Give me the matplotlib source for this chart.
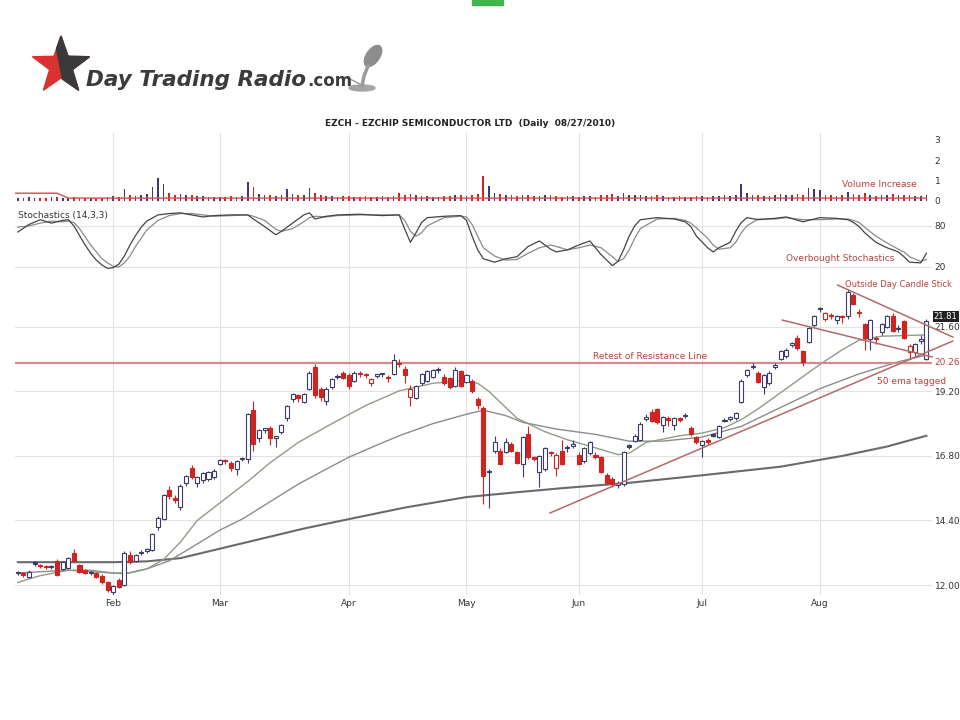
import numpy as np
import matplotlib
matplotlib.use("Agg")
import matplotlib.pyplot as plt
from matplotlib.patches import Polygon, Ellipse, Rectangle

# ---- values (EZCH daily, Jan 5 .. Aug 27 2010) ----
months = ['Feb', 'Mar', 'Apr', 'May', 'Jun', 'Jul', 'Aug']
month_start = [18, 37, 60, 81, 101, 123, 144]   # index of first session

opens = [12.30, 12.47, 12.45, 12.30, 12.82, 12.72, 12.72, 12.66, 12.90, 12.60,
         12.65, 13.20, 12.75, 12.55, 12.44, 12.45, 12.35, 12.10, 11.75, 12.20,
         12.00, 13.10, 12.90, 13.18, 13.28, 13.30, 14.15, 14.45, 15.55, 15.25,
         14.90, 15.80, 16.35, 15.80, 15.90, 15.95, 16.00, 16.50, 16.62, 16.55,
         16.30, 16.68, 16.70, 18.50, 17.45, 17.78, 17.85, 17.48, 17.70, 18.20,
         18.90, 19.05, 18.80, 19.30, 20.10, 19.30, 18.85, 19.35, 19.72, 19.90,
         19.80, 19.60, 19.88, 19.82, 19.50, 19.78, 19.83, 19.74, 19.85, 20.22,
         20.05, 19.00, 18.95, 19.50, 19.60, 19.75, 19.98, 19.75, 19.70, 19.40,
         19.95, 19.55, 19.60, 18.90, 18.60, 16.25, 17.00, 17.00, 16.95, 17.25,
         16.95, 16.50, 17.60, 16.72, 16.20, 16.30, 16.92, 16.35, 17.00, 17.08,
         17.18, 16.85, 16.60, 16.90, 16.85, 16.75, 16.10, 15.95, 15.73, 15.75,
         17.18, 17.35, 17.40, 18.18, 18.45, 18.55, 17.95, 18.17, 17.95, 18.17,
         18.28, 17.85, 17.50, 17.20, 17.40, 17.58, 17.50, 18.12, 18.18, 18.20,
         18.80, 19.80, 20.12, 19.90, 19.35, 19.50, 20.12, 20.40, 20.50, 20.93,
         21.20, 20.70, 21.05, 21.65, 22.28, 21.90, 22.02, 21.85, 21.97, 22.00,
         22.80, 22.15, 21.70, 21.15, 21.17, 21.40, 21.60, 22.00, 21.52, 21.80,
         20.65, 20.65, 21.08, 20.40]
highs = [12.45, 12.52, 12.50, 12.55, 12.88, 12.78, 12.76, 12.74, 12.98, 12.88,
         13.05, 13.35, 12.80, 12.60, 12.52, 12.48, 12.40, 12.15, 12.00, 12.25,
         13.25, 13.25, 13.15, 13.30, 13.38, 13.95, 14.55, 15.40, 15.70, 15.35,
         15.75, 16.10, 16.45, 16.05, 16.20, 16.25, 16.30, 16.70, 16.70, 16.60,
         16.65, 16.75, 18.40, 18.85, 17.80, 17.85, 17.90, 17.55, 18.00, 18.70,
         19.15, 19.10, 19.15, 19.95, 20.20, 19.35, 19.35, 19.70, 19.85, 19.95,
         19.90, 19.95, 19.95, 19.90, 19.70, 19.85, 19.90, 19.80, 20.60, 20.40,
         20.15, 19.45, 19.45, 19.90, 20.00, 20.05, 20.10, 19.85, 19.75, 20.10,
         20.00, 19.85, 19.65, 19.00, 18.65, 16.30, 17.55, 17.10, 17.45, 17.30,
         17.00, 17.55, 17.90, 16.80, 16.85, 17.15, 17.00, 16.90, 17.40, 17.20,
         17.40, 16.95, 17.15, 17.35, 16.95, 16.80, 16.15, 16.00, 15.85, 17.00,
         17.25, 17.60, 18.05, 18.35, 18.55, 18.60, 18.30, 18.30, 18.25, 18.25,
         18.40, 17.90, 17.55, 17.40, 17.45, 17.65, 17.95, 18.20, 18.30, 18.45,
         19.65, 20.05, 20.25, 19.95, 19.85, 19.95, 20.25, 20.75, 20.80, 21.05,
         21.30, 20.75, 21.60, 22.05, 22.35, 22.15, 22.10, 22.05, 22.05, 23.00,
         22.85, 22.25, 21.75, 21.90, 21.25, 21.75, 22.05, 22.10, 21.65, 21.85,
         20.95, 21.00, 21.30, 21.90]
lows = [12.25, 12.38, 12.30, 12.25, 12.72, 12.62, 12.60, 12.60, 12.32, 12.55,
        12.60, 12.85, 12.45, 12.40, 12.38, 12.25, 12.05, 11.75, 11.60, 11.88,
        11.95, 12.80, 12.85, 13.10, 13.20, 13.25, 14.05, 14.40, 15.20, 15.05,
        14.80, 15.70, 15.95, 15.65, 15.80, 15.85, 15.95, 16.45, 16.50, 16.25,
        16.10, 16.60, 16.55, 17.00, 17.30, 17.65, 17.20, 17.15, 17.60, 18.10,
        18.80, 18.80, 18.75, 19.25, 18.95, 18.85, 18.70, 19.30, 19.65, 19.65,
        19.30, 19.55, 19.75, 19.70, 19.40, 19.70, 19.75, 19.55, 19.80, 20.10,
        19.50, 18.65, 18.90, 19.45, 19.55, 19.70, 19.90, 19.45, 19.30, 19.35,
        19.35, 19.50, 19.15, 18.55, 15.00, 14.85, 16.90, 16.45, 16.90, 16.95,
        16.50, 16.00, 16.70, 16.60, 15.65, 16.25, 16.80, 16.05, 16.45, 16.95,
        17.10, 16.45, 16.55, 16.85, 16.70, 16.15, 15.75, 15.65, 15.60, 15.70,
        17.05, 17.30, 17.35, 18.10, 18.05, 18.00, 17.70, 17.90, 17.75, 18.05,
        18.20, 17.55, 17.25, 16.75, 17.20, 17.50, 17.45, 18.05, 18.10, 18.15,
        18.75, 19.75, 20.05, 19.50, 19.10, 19.45, 20.05, 20.35, 20.45, 20.85,
        20.75, 20.15, 21.00, 21.60, 22.15, 21.80, 21.90, 21.70, 21.75, 21.90,
        22.40, 21.95, 20.75, 20.75, 20.95, 21.30, 21.55, 21.40, 21.40, 21.15,
        20.40, 20.50, 20.95, 20.35]
closes = [12.40, 12.44, 12.37, 12.50, 12.79, 12.70, 12.66, 12.70, 12.37, 12.85,
          13.00, 12.90, 12.50, 12.45, 12.47, 12.30, 12.10, 11.80, 11.95, 11.93,
          13.20, 12.85, 13.10, 13.22, 13.32, 13.90, 14.50, 15.35, 15.30, 15.15,
          15.70, 16.05, 16.00, 16.00, 16.15, 16.20, 16.25, 16.65, 16.60, 16.35,
          16.60, 16.72, 18.35, 17.25, 17.75, 17.80, 17.45, 17.50, 17.95, 18.65,
          19.10, 18.95, 19.10, 19.90, 19.05, 19.00, 19.30, 19.65, 19.75, 19.70,
          19.40, 19.90, 19.85, 19.80, 19.65, 19.80, 19.86, 19.70, 20.35, 20.20,
          19.80, 19.30, 19.40, 19.85, 19.95, 20.00, 20.02, 19.50, 19.35, 20.00,
          19.40, 19.80, 19.20, 18.70, 16.05, 16.20, 17.30, 16.50, 17.30, 17.00,
          16.55, 17.50, 16.75, 16.70, 16.80, 17.10, 16.90, 16.85, 16.50, 17.10,
          17.20, 16.50, 17.10, 17.30, 16.75, 16.20, 15.80, 15.75, 15.76, 16.95,
          17.15, 17.55, 18.00, 18.22, 18.10, 18.05, 18.25, 18.15, 18.20, 18.15,
          18.30, 17.60, 17.30, 17.35, 17.30, 17.55, 17.90, 18.10, 18.22, 18.40,
          19.60, 20.00, 20.10, 19.55, 19.80, 19.90, 20.15, 20.70, 20.75, 20.95,
          20.80, 20.30, 21.55, 22.00, 22.25, 22.10, 22.00, 22.00, 21.95, 22.90,
          22.45, 22.10, 21.20, 21.85, 21.15, 21.70, 22.00, 21.45, 21.55, 21.20,
          20.90, 20.95, 21.10, 21.81]

# volume in millions, one row per month
volume = [0.15, 0.12, 0.14, 0.18, 0.13, 0.12, 0.15, 0.20, 0.17, 0.14, 0.16, 0.18, 0.15, 0.12, 0.13, 0.16, 0.14, 0.18,
          0.22, 0.20, 0.60, 0.30, 0.25, 0.28, 0.32, 0.70, 1.15, 0.85, 0.40, 0.30, 0.35, 0.30, 0.28, 0.25, 0.22, 0.20, 0.18,
          0.20, 0.18, 0.22, 0.20, 0.25, 0.95, 0.70, 0.35, 0.30, 0.28, 0.25, 0.30, 0.60, 0.35, 0.30, 0.28, 0.65, 0.40, 0.30, 0.25, 0.22, 0.20, 0.22,
          0.25, 0.20, 0.18, 0.22, 0.20, 0.18, 0.22, 0.20, 0.25, 0.40, 0.30, 0.35, 0.30, 0.25, 0.22, 0.20, 0.18, 0.22, 0.25, 0.28, 0.30,
          0.25, 0.30, 0.35, 1.25, 0.75, 0.40, 0.35, 0.30, 0.28, 0.25, 0.30, 0.28, 0.22, 0.25, 0.30, 0.28, 0.22, 0.20, 0.25, 0.22,
          0.20, 0.22, 0.25, 0.20, 0.28, 0.30, 0.32, 0.25, 0.38, 0.30, 0.28, 0.30, 0.25, 0.22, 0.28, 0.25, 0.20, 0.18, 0.22, 0.20, 0.18, 0.22,
          0.25, 0.20, 0.22, 0.25, 0.28, 0.25, 0.30, 0.85, 0.40, 0.30, 0.28, 0.25, 0.22, 0.30, 0.35, 0.30, 0.28, 0.32, 0.30, 0.65, 0.60,
          0.55, 0.30, 0.28, 0.25, 0.30, 0.45, 0.35, 0.30, 0.40, 0.30, 0.25, 0.28, 0.30, 0.35, 0.30, 0.28, 0.30, 0.25, 0.22, 0.30]
vol_ma_days = [0, 8, 10, 163]
vol_ma_vals = [0.38, 0.38, 0.14, 0.14]

# moving averages, read at points along each line
ma20_days = [1, 5, 10, 14, 18, 21, 24, 27, 30, 33, 37, 42, 46, 51, 57, 63, 69, 75, 80, 83, 85, 87, 90, 95,
             99, 104, 108, 110, 113, 119, 123, 127, 130, 133, 138, 144, 148, 151, 155, 163]
ma20_vals = [12.10, 12.35, 12.55, 12.55, 12.45, 12.45, 12.60, 12.95, 13.60, 14.40, 15.05, 15.85, 16.55, 17.30,
             18.00, 18.67, 19.22, 19.50, 19.60, 19.50, 19.20, 18.80, 18.20, 17.70, 17.40, 17.10, 16.85, 16.90,
             17.30, 17.55, 17.65, 17.85, 18.15, 18.55, 19.30, 20.20, 20.75, 21.10, 21.25, 21.30]
ma50_days = [1, 10, 20, 24, 28, 32, 37, 41, 46, 51, 55, 60, 65, 69, 75, 81, 84, 88, 91, 97, 104, 110, 116,
             123, 130, 137, 144, 151, 158, 163]
ma50_vals = [12.45, 12.55, 12.42, 12.60, 12.90, 13.40, 14.04, 14.45, 15.10, 15.75, 16.20, 16.75, 17.20, 17.55,
             18.00, 18.35, 18.50, 18.30, 18.05, 17.80, 17.60, 17.35, 17.35, 17.50, 17.90, 18.60, 19.30, 19.85,
             20.30, 20.55]
ma200_days = [1, 18, 24, 30, 37, 45, 52, 60, 70, 81, 90, 98, 110, 123, 137, 148, 156, 163]
ma200_vals = [12.85, 12.85, 12.88, 13.00, 13.35, 13.75, 14.10, 14.45, 14.88, 15.27, 15.45, 15.60, 15.80, 16.08,
              16.40, 16.80, 17.15, 17.55]

# slow stochastics (14,3,3): %K and %D read at the same sessions
sto_days = [1, 3, 5, 7, 9, 10, 11, 12, 13, 14, 15, 16, 17, 18, 19, 20, 21, 22, 23, 24,
            26, 28, 30, 32, 34, 36, 39, 42, 43, 45, 47, 48, 50, 52, 53, 54, 56, 58, 62, 66,
            69, 70, 71, 72, 73, 74, 77, 80, 81, 82, 83, 84, 86, 88, 90, 92, 94, 96, 97, 99,
            101, 103, 105, 107, 108, 109, 110, 111, 112, 115, 118, 120, 121, 122, 124, 125, 126, 128, 129, 130,
            131, 133, 136, 138, 141, 144, 147, 149, 150, 151, 152, 154, 156, 158, 159, 160, 162, 163]
sto_k = [71, 82, 89, 84, 88, 89, 80, 66, 52, 40, 30, 23, 18, 19, 24, 36, 52, 66, 78, 87,
         96, 98, 99, 96, 93, 95, 96, 96, 90, 79, 67, 72, 84, 96, 99, 90, 94, 96, 97, 95,
         96, 75, 56, 70, 85, 92, 94, 95, 88, 65, 45, 32, 27, 32, 35, 50, 58, 46, 42, 45,
         52, 58, 38, 22, 28, 45, 65, 80, 89, 92, 90, 86, 79, 65, 48, 42, 48, 56, 72, 85,
         92, 89, 91, 93, 86, 92, 91, 89, 85, 79, 70, 56, 48, 42, 35, 27, 26, 40]
sto_d = [78, 80, 84, 87, 86, 87, 85, 76, 64, 52, 42, 32, 26, 21, 20, 26, 36, 50, 62, 74,
         88, 95, 98, 98, 96, 94, 95, 96, 94, 88, 75, 72, 76, 86, 92, 94, 93, 95, 96, 96,
         96, 88, 72, 65, 70, 80, 92, 94, 93, 82, 65, 48, 36, 30, 31, 40, 48, 52, 50, 45,
         48, 52, 48, 35, 28, 32, 45, 62, 76, 90, 91, 88, 84, 77, 62, 52, 46, 48, 56, 70,
         80, 90, 90, 92, 89, 89, 90, 90, 88, 85, 78, 65, 55, 46, 42, 35, 28, 31]

price_ticks = [12.00, 14.40, 16.80, 19.20, 21.60]
resistance = 20.26
last_close = closes[-1]

# ---- layout (pixel positions of the 960x720 frame) ----
RED = '#cf2420'
DARK = '#3c3c6c'
NOTE = '#b8413f'
GRID = '#e3e3e3'

fig = plt.figure(figsize=(9.6, 7.2), dpi=100)
fig.patch.set_facecolor('white')

def box(top, bottom, left=15, right=932):
    return [left / 960, 1 - bottom / 720, (right - left) / 960, (bottom - top) / 720]

# background layer for the logo
bg = fig.add_axes([0, 0, 1, 1])
bg.set_xlim(0, 960)
bg.set_ylim(720, 0)
bg.axis('off')
bg.add_patch(Rectangle((472, 0), 31, 5, color='#3fb54b'))

cx, cy = 61, 66
ang = np.deg2rad(-90 + np.arange(10) * 36)
rad = np.where(np.arange(10) % 2 == 0, 30, 12)
star = np.c_[cx + rad * np.cos(ang), cy + rad * np.sin(ang)]
bg.add_patch(Polygon(star, closed=True, color='#d9322f'))
dark_star = Polygon(star, closed=True, color='#3a3a3a')
bg.add_patch(dark_star)
clip = Polygon([(52, 30), (120, 30), (120, 110), (68, 110)], closed=True, transform=bg.transData)
dark_star.set_clip_path(clip)

logo = bg.text(86, 86, 'Day Trading Radio', fontsize=20, fontweight='bold', fontstyle='italic',
               color='#3b3b3b', family=['Liberation Sans Narrow', 'DejaVu Sans'], va='baseline')
fig.canvas.draw()
bb = logo.get_window_extent()
if bb.width > 220:
    logo.set_fontsize(20 * 220 / bb.width)
    fig.canvas.draw()
    bb = logo.get_window_extent()
bg.text(bb.x1 + 1, 86, '.com', fontsize=12, fontweight='bold', color='#3b3b3b',
        family=['Liberation Sans Narrow', 'DejaVu Sans'], va='baseline')
bg.add_patch(Ellipse((373, 56), 13, 24, angle=35, color='#8d8d8d'))
bg.plot([368, 364, 362], [66, 76, 86], color='#9a9a9a', lw=2.5)
bg.add_patch(Ellipse((362, 88), 26, 6, color='#a5a5a5'))
bg.plot([344, 352, 360], [77, 80, 84], color='#9a9a9a', lw=1)

fig.text(470 / 960, 1 - 124 / 720, 'EZCH - EZCHIP SEMICONDUCTOR LTD  (Daily  08/27/2010)',
         ha='center', va='center', fontsize=6.5, fontweight='bold', color='#222222')

ax_vol = fig.add_axes(box(133, 205))
ax_sto = fig.add_axes(box(206, 280))
ax_pr = fig.add_axes(box(280, 595))

days = np.arange(len(closes))
o = np.array(opens); h = np.array(highs); l = np.array(lows); c = np.array(closes)
prev = np.r_[c[0], c[:-1]]
col = np.where(c < prev, RED, DARK)
face = np.where(c < o, col, 'white')

for ax in (ax_vol, ax_sto, ax_pr):
    ax.set_xlim(0.5, 164)
    for s in ax.spines.values():
        s.set_visible(False)
    ax.yaxis.tick_right()
    ax.tick_params(axis='both', length=0, labelsize=6.5, labelcolor='#333333', pad=2)
    for m in month_start:
        ax.axvline(m, color=GRID, lw=0.8, zorder=0)
    ax.set_facecolor('none')

# volume panel
ax_vol.bar(days, volume, width=0.3, color=col, zorder=2)
ax_vol.plot(vol_ma_days, vol_ma_vals, color='#d05050', lw=1, zorder=3)
ax_vol.set_ylim(-0.2, 3.34)
ax_vol.set_yticks([0, 1, 2, 3])
ax_vol.set_xticks([])
ax_vol.text(154.7, 0.82, 'Volume Increase', color=NOTE, fontsize=6.5, ha='center', va='center')

# stochastics panel
for lev in (20, 80):
    ax_sto.axhline(lev, color=GRID, lw=0.8, zorder=0)
ax_sto.plot(sto_days, sto_d, color='#8a8a8a', lw=0.9)
ax_sto.plot(sto_days, sto_k, color='#444444', lw=0.9)
ax_sto.set_ylim(1, 109)
ax_sto.set_yticks([20, 80])
ax_sto.set_xticks([])
ax_sto.text(1, 95, 'Stochastics (14,3,3)', fontsize=6.5, color='#333333', va='center')
ax_sto.text(147.6, 32, 'Overbought Stochastics', color=NOTE, fontsize=6.5, ha='center', va='center')

# price panel
for t in price_ticks:
    ax_pr.axhline(t, color=GRID, lw=0.8, zorder=0)
ax_pr.plot(ma200_days, ma200_vals, color='#6a6a6a', lw=1.5, zorder=1.5)
ax_pr.plot(ma50_days, ma50_vals, color='#8c8c8c', lw=1.0, zorder=1.5)
ax_pr.plot(ma20_days, ma20_vals, color='#8f9c88', lw=1.0, zorder=1.5)
ax_pr.axhline(resistance, color='#d28a8a', lw=1.6, zorder=1.6)

ax_pr.vlines(days, l, h, colors=col, lw=0.8, zorder=2)
ax_pr.bar(days, np.maximum(np.abs(c - o), 0.05), bottom=np.minimum(o, c), width=0.72,
          color=face, edgecolor=col, linewidth=0.8, zorder=3)

tl = dict(color='#b36a6a', lw=1.1, zorder=4, clip_on=False)
ax_pr.plot([95.9, 167.7], [14.68, 21.07], **tl)
ax_pr.plot([147.2, 167.7], [23.15, 21.22], **tl)
ax_pr.plot([137.3, 164.0], [21.85, 20.48], **tl)

ax_pr.set_ylim(11.63, 23.34)
ax_pr.set_yticks(price_ticks)
ax_pr.set_yticklabels([f'{t:.2f}' for t in price_ticks])
ax_pr.set_xticks(month_start)
ax_pr.set_xticklabels(months)
ax_pr.tick_params(axis='x', pad=3)

ax_pr.text(113.7, 20.48, 'Retest of Resistance Line', color=NOTE, fontsize=6.5, ha='center', va='center')
ax_pr.text(148.5, 23.19, 'Outside Day Candle Stick', color=NOTE, fontsize=6, ha='left', va='center',
           clip_on=False)
ax_pr.text(160.4, 19.58, '50 ema tagged', color=NOTE, fontsize=6.5, ha='center', va='center', clip_on=False)
yt = ax_pr.get_yaxis_transform()
ax_pr.text(1.003, resistance, '20.26', transform=yt, color=NOTE, fontsize=6.5, va='center', ha='left',
           clip_on=False)
# last-price flag, nudged up a little so it sits just above the 21.60 tick label
ax_pr.text(1.002, last_close + 0.17, '21.81', transform=yt, color='white', fontsize=6, va='center', ha='left',
           bbox=dict(boxstyle='square,pad=0.12', fc='#222222', ec='none'), clip_on=False, zorder=10)

fig.savefig('out.png', dpi=100, facecolor='white')
